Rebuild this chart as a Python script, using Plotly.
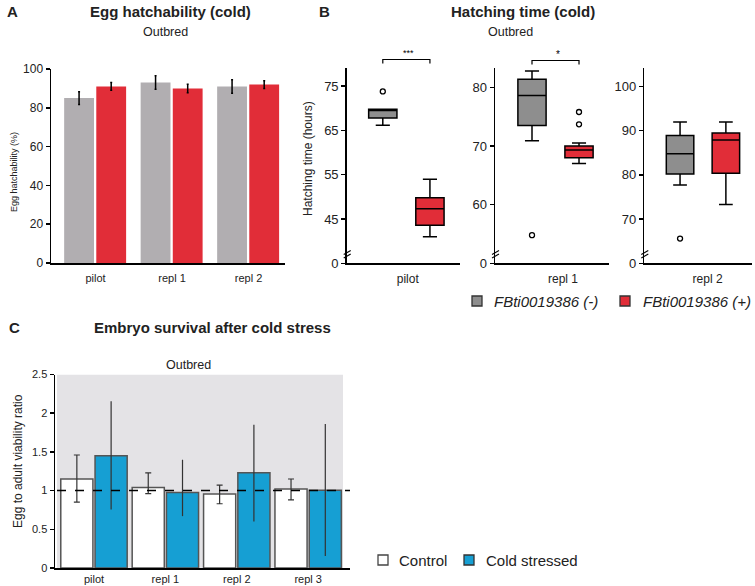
import plotly.graph_objects as go

W, H = 755, 586
FONT = "Liberation Sans, Arial, sans-serif"

# ---------------- data ----------------
# Panel A: egg hatchability (%)
cats_A = ["pilot", "repl 1", "repl 2"]
hatch_minus = [85, 93, 91]
hatch_minus_err = [3.3, 3.5, 3.5]
hatch_plus = [91, 90, 92]
hatch_plus_err = [2.0, 2.2, 2.0]

# Panel B: hatching time (hours) box summaries [pilot, repl 1, repl 2]
cats_B = ["pilot", "repl 1", "repl 2"]
minus_q1 = [67.8, 73.5, 80.2]
minus_med = [69.5, 78.6, 84.8]
minus_q3 = [69.8, 81.4, 88.9]
minus_lo = [66.2, 70.9, 77.7]
minus_hi = [69.8, 82.8, 92.0]
minus_out = [[73.8], [54.8], [65.6]]
plus_q1 = [43.6, 68.0, 80.4]
plus_med = [47.3, 69.3, 87.9]
plus_q3 = [49.8, 70.0, 89.5]
plus_lo = [41.0, 67.0, 73.3]
plus_hi = [54.0, 70.5, 92.0]
plus_out = [[], [73.7, 75.8], []]
ranges_B = [[35, 79.1], [50, 83.3], [60, 104.2]]
tickvals_B = [[35, 45, 55, 65, 75], [50, 60, 70, 80], [60, 70, 80, 90, 100]]
ticktext_B = [["0", "45", "55", "65", "75"], ["0", "60", "70", "80"], ["0", "70", "80", "90", "100"]]

# Panel C: egg to adult viability ratio
cats_C = ["pilot", "repl 1", "repl 2", "repl 3"]
control = [1.15, 1.04, 0.957, 1.02]
control_hi = [1.46, 1.23, 1.07, 1.15]
control_lo = [0.85, 0.96, 0.83, 0.88]
cold = [1.45, 0.975, 1.23, 1.005]
cold_hi = [2.155, 1.40, 1.85, 1.86]
cold_lo = [0.755, 0.67, 0.60, 0.155]

GRAY_A = "#b1aeb1"
RED = "#e12d38"
GRAY_B = "#8e8e8e"
BLUE = "#169fd3"


def px(x):
    return x / W


def py(y):
    return 1 - y / H


fig = go.Figure()

# ---------------- Panel A ----------------
xa = list(range(len(cats_A)))
fig.add_trace(go.Bar(x=xa, y=hatch_minus, width=0.39, offset=-0.41,
                     marker=dict(color=GRAY_A, line=dict(width=0)),
                     error_y=dict(type="data", array=hatch_minus_err, color="black", thickness=1.5, width=1),
                     xaxis="x", yaxis="y", showlegend=False))
fig.add_trace(go.Bar(x=xa, y=hatch_plus, width=0.39, offset=0.01,
                     marker=dict(color=RED, line=dict(width=0)),
                     error_y=dict(type="data", array=hatch_plus_err, color="black", thickness=1.5, width=1),
                     xaxis="x", yaxis="y", showlegend=False))

# ---------------- Panel B ----------------
axB = [("x2", "y2"), ("x3", "y3"), ("x4", "y4")]
for i in range(3):
    xr, yr = axB[i]
    fig.add_trace(go.Box(x=[0], q1=[minus_q1[i]], median=[minus_med[i]], q3=[minus_q3[i]],
                         lowerfence=[minus_lo[i]], upperfence=[minus_hi[i]],
                         width=0.6, fillcolor=GRAY_B, line=dict(color="black", width=1.5),
                         boxpoints=False, xaxis=xr, yaxis=yr, showlegend=False, hoverinfo="skip"))
    fig.add_trace(go.Box(x=[1], q1=[plus_q1[i]], median=[plus_med[i]], q3=[plus_q3[i]],
                         lowerfence=[plus_lo[i]], upperfence=[plus_hi[i]],
                         width=0.6, fillcolor=RED, line=dict(color="black", width=1.5),
                         boxpoints=False, xaxis=xr, yaxis=yr, showlegend=False, hoverinfo="skip"))
    outs_x = [0] * len(minus_out[i]) + [1] * len(plus_out[i])
    outs_y = minus_out[i] + plus_out[i]
    if outs_y:
        fig.add_trace(go.Scatter(x=outs_x, y=outs_y, mode="markers",
                                 marker=dict(symbol="circle-open", size=5, color="black", line=dict(width=1.3)),
                                 xaxis=xr, yaxis=yr, showlegend=False, hoverinfo="skip"))

# ---------------- Panel C ----------------
xc = list(range(len(cats_C)))
fig.add_trace(go.Bar(x=xc, y=control, width=0.45, offset=-0.465,
                     marker=dict(color="white", line=dict(color="#555555", width=1.5)),
                     error_y=dict(type="data", symmetric=False,
                                  array=[h - v for h, v in zip(control_hi, control)],
                                  arrayminus=[v - l for v, l in zip(control, control_lo)],
                                  color="#333333", thickness=1.2, width=3),
                     xaxis="x5", yaxis="y5", showlegend=False))
fig.add_trace(go.Bar(x=xc, y=cold, width=0.45, offset=0.015,
                     marker=dict(color=BLUE, line=dict(color="#555555", width=1.5)),
                     error_y=dict(type="data", symmetric=False,
                                  array=[h - v for h, v in zip(cold_hi, cold)],
                                  arrayminus=[v - l for v, l in zip(cold, cold_lo)],
                                  color="#333333", thickness=1.2, width=0),
                     xaxis="x5", yaxis="y5", showlegend=False))

# ---------------- axes ----------------
ax_common = dict(showgrid=False, zeroline=False, showline=True, linecolor="black", linewidth=1.5,
                 automargin=False, tickcolor="black")

layout = dict(
    template="none",
    width=W, height=H, margin=dict(l=0, r=0, t=0, b=0, pad=0),
    paper_bgcolor="white", plot_bgcolor="rgba(0,0,0,0)",
    font=dict(family=FONT, color="#222222"),
    barmode="overlay", boxmode="overlay",
    xaxis=dict(domain=[px(51), px(285)], range=[-0.582, 2.477], anchor="y",
               tickvals=xa, ticktext=cats_A, ticks="", tickfont=dict(size=11),
               ticklabelstandoff=4, **ax_common),
    yaxis=dict(domain=[py(263), py(69)], range=[0, 100], anchor="x",
               tickvals=[0, 20, 40, 60, 80, 100], ticks="outside", ticklen=4, tickwidth=1.5,
               tickfont=dict(size=12), **ax_common),
    xaxis5=dict(domain=[px(55), px(350)], range=[-0.546, 3.586], anchor="y5",
                tickvals=xc, ticktext=cats_C, ticks="", tickfont=dict(size=11), **ax_common),
    yaxis5=dict(domain=[py(568), py(374.5)], range=[0, 2.5], anchor="x5",
                tickvals=[0, 0.5, 1, 1.5, 2, 2.5], ticktext=["0", "0.5", "1", "1.5", "2", "2.5"],
                ticks="outside", ticklen=4, tickwidth=1.5, tickfont=dict(size=11), **ax_common),
)

B_x_px = [(346.7, 460), (495, 609), (644.3, 752)]
B_ranges_x = [[-0.766, 1.638], [-0.787, 1.638], [-0.78, 1.57]]
B_label_x = [0.53, 0.66, 0.6]
for i in range(3):
    n = i + 2
    x0, x1 = B_x_px[i]
    layout[f"xaxis{n}"] = dict(domain=[px(x0), px(x1)], range=B_ranges_x[i], anchor=f"y{n}",
                               tickvals=[B_label_x[i]], ticktext=[cats_B[i]], ticks="",
                               tickfont=dict(size=12), ticklabelstandoff=4, **ax_common)
    layout[f"yaxis{n}"] = dict(domain=[py(263.3), py(68)], range=ranges_B[i], anchor=f"x{n}",
                               tickvals=tickvals_B[i], ticktext=ticktext_B[i],
                               ticks="outside", ticklen=4, tickwidth=1.5,
                               tickfont=dict(size=13), **ax_common)

fig.update_layout(**layout)

# ---------------- shapes ----------------
shapes = []
# grey background of panel C
shapes.append(dict(type="rect", xref="paper", yref="y5", x0=px(57), x1=px(343), y0=0, y1=2.5,
                   fillcolor="#e4e3e6", line=dict(width=0), layer="below"))
# reference line at ratio 1
shapes.append(dict(type="line", xref="paper", yref="y5", x0=px(57), x1=px(350), y0=1, y1=1,
                   line=dict(color="black", width=1.5, dash="dash"), layer="above"))
# axis break marks in panel B
for x0, _ in B_x_px:
    for dy in (0, -3.5):
        shapes.append(dict(type="line", xref="paper", yref="paper",
                           x0=px(x0 - 3), y0=py(258 + dy), x1=px(x0 + 4), y1=py(254 + dy),
                           line=dict(color="black", width=1.1)))
# significance brackets
brk = [(2, 59.5, 63.5), (3, 60.5, 64.5)]
for n, ytop, ybot in brk:
    shapes.append(dict(type="path", xref=f"x{n}", yref="paper",
                       path=f"M 0,{py(ybot)} L 0,{py(ytop)} L 1,{py(ytop)} L 1,{py(ybot)}",
                       line=dict(color="black", width=1.2)))
# legend squares
for cx, cy, col, lc in [(477, 301, GRAY_B, "#333333"), (625, 301, RED, "#333333"),
                        (383, 560, "white", "#444444"), (469, 560, BLUE, "#333333")]:
    shapes.append(dict(type="rect", xref="paper", yref="paper",
                       x0=px(cx - 5), x1=px(cx + 5), y0=py(cy + 5), y1=py(cy - 5),
                       fillcolor=col, line=dict(color=lc, width=1.3)))
fig.update_layout(shapes=shapes)

# ---------------- annotations ----------------
ann = []


def txt(text, x, y, size, bold=False, xanchor="center", angle=0, italic=False, color="#222222"):
    t = text
    if bold:
        t = f"<b>{t}</b>"
    if italic:
        t = f"<i>{t}</i>"
    ann.append(dict(text=t, x=px(x), y=py(y), xref="paper", yref="paper",
                    xanchor=xanchor, yanchor="middle", showarrow=False, textangle=angle,
                    font=dict(size=size, family=FONT, color=color)))


txt("A", 5, 12, 15, bold=True, xanchor="left")
txt("B", 317, 12, 15, bold=True, xanchor="left")
txt("C", 7, 327, 15, bold=True, xanchor="left")
txt("Egg hatchability (cold)", 170, 12, 15, bold=True)
txt("Outbred", 165.5, 32, 12.5)
txt("Hatching time (cold)", 523, 12, 15, bold=True)
txt("Outbred", 510, 32, 12.5)
txt("Embryo survival after cold stress", 212, 327, 15, bold=True)
txt("Outbred", 188, 365, 12.5)
txt("Egg hatchability (%)", 14, 172, 9, angle=-90)
txt("Hatching time (hours)", 308, 159, 12, angle=-90)
txt("Egg to adult viability ratio", 18, 461, 12, angle=-90)
txt("***", 408, 53, 9, color="black")
txt("*", 557.5, 54, 10, color="black")
txt("FBti0019386 (-)", 492, 301, 15, italic=True, xanchor="left")
txt("FBti0019386 (+)", 641, 301, 15, italic=True, xanchor="left")
txt("Control", 397, 560, 15, xanchor="left")
txt("Cold stressed", 484, 560, 15, xanchor="left")
fig.update_layout(annotations=ann)

fig.write_html("out.html", config={"displayModeBar": False, "staticPlot": True},
               post_script="document.body.style.margin='0px';document.body.style.padding='0px';"
                           "document.body.style.overflow='hidden';")
